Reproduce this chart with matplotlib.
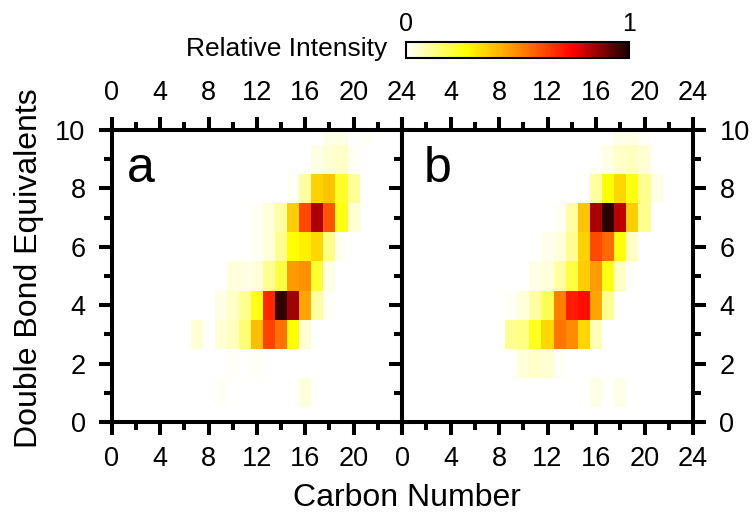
import numpy as np
import matplotlib
matplotlib.use("Agg")
import matplotlib.pyplot as plt
from matplotlib.colors import LinearSegmentedColormap

plt.rcParams['font.family'] = ['Liberation Sans', 'DejaVu Sans']

carbon = np.arange(0, 25)
dbe = np.arange(0, 11)

# rows: DBE -> (first carbon number, intensities)
rows_a = {
    10: (18, [0.03, 0.03, 0.0, 0.015]),
    9: (17, [0.03, 0.05, 0.06, 0.015]),
    8: (15, [0.015, 0.10, 0.36, 0.39, 0.23, 0.11]),
    7: (12, [0.015, 0.04, 0.10, 0.37, 0.62, 0.84, 0.60, 0.25, 0.05]),
    6: (12, [0.015, 0.04, 0.12, 0.27, 0.30, 0.35, 0.13, 0.015]),
    5: (10, [0.04, 0.03, 0.04, 0.12, 0.20, 0.47, 0.49, 0.22, 0.03]),
    4: (9, [0.03, 0.06, 0.12, 0.25, 0.68, 0.97, 0.85, 0.45, 0.10, 0.015]),
    3: (7, [0.05, 0.0, 0.05, 0.07, 0.15, 0.40, 0.63, 0.55, 0.27, 0.05]),
    2: (10, [0.01, 0.005, 0.01]),
    1: (9, [0.015, 0.0, 0.0, 0.0, 0.0, 0.0, 0.0, 0.04]),
}
rows_b = {
    10: (18, [0.03, 0.03, 0.01]),
    9: (17, [0.03, 0.06, 0.07, 0.05]),
    8: (16, [0.10, 0.27, 0.35, 0.25, 0.12, 0.03]),
    7: (13, [0.015, 0.10, 0.39, 0.84, 0.98, 0.82, 0.37, 0.12]),
    6: (12, [0.02, 0.04, 0.12, 0.36, 0.62, 0.56, 0.26, 0.06]),
    5: (11, [0.03, 0.04, 0.10, 0.20, 0.37, 0.47, 0.25, 0.06]),
    4: (9, [0.015, 0.04, 0.10, 0.18, 0.52, 0.70, 0.73, 0.45, 0.12]),
    3: (9, [0.12, 0.13, 0.24, 0.35, 0.54, 0.50, 0.35, 0.08]),
    2: (10, [0.04, 0.06, 0.05, 0.015]),
    1: (16, [0.03, 0.0, 0.03]),
}


def to_grid(rows):
    z = np.zeros((len(dbe), len(carbon)))
    for d, (c0, vals) in rows.items():
        z[d, c0:c0 + len(vals)] = vals
    return z


cmap = LinearSegmentedColormap.from_list(
    'ri', [(0.0, '#ffffff'), (0.27, '#ffff00'), (0.5, '#ff8c00'),
           (0.75, '#ff0000'), (1.0, '#1a0000')])

fig = plt.figure(figsize=(7.53, 5.16), dpi=100)
ax_a = fig.add_axes([0.1487, 0.1822, 0.3851, 0.5659])
ax_b = fig.add_axes([0.5339, 0.1822, 0.3865, 0.5659])

xe = np.arange(-0.5, 25, 1)
ye = np.arange(-0.5, 11, 1)

for ax, rows, letter, lx in [(ax_a, rows_a, 'a', 0.05), (ax_b, rows_b, 'b', 0.075)]:
    mesh = ax.pcolormesh(xe, ye, to_grid(rows), cmap=cmap, vmin=0, vmax=1)
    ax.set_xlim(0, 24)
    ax.set_ylim(0, 10)
    ax.set_xticks(np.arange(0, 25, 4))
    ax.set_xticks(np.arange(2, 24, 4), minor=True)
    ax.set_yticks(np.arange(0, 11, 2))
    ax.set_yticks(np.arange(1, 10, 2), minor=True)
    ax.tick_params(which='both', direction='out', top=True, bottom=True,
                   left=True, right=True, width=2.9, labelsize=19.5)
    ax.tick_params(axis='x', which='both', pad=8)
    ax.tick_params(axis='y', which='both', pad=9.5)
    ax.tick_params(which='major', length=9.5)
    ax.tick_params(which='minor', length=5.5)
    ax.tick_params(axis='x', labeltop=True, labelbottom=True)
    for s in ax.spines.values():
        s.set_linewidth(2.9)
    ax.text(lx, 0.822, letter, transform=ax.transAxes, fontsize=36,
            va='baseline', ha='left')

ax_a.tick_params(axis='y', labelleft=True, labelright=False)
ax_b.tick_params(axis='y', labelleft=False, labelright=True)
ax_a.xaxis.get_major_ticks()[-1].label1.set_visible(False)
ax_b.xaxis.get_major_ticks()[0].label2.set_visible(False)

ax_a.set_ylabel('Double Bond Equivalents', fontsize=23)
ax_a.yaxis.set_label_coords(-0.236, 0.525)
fig.text(0.541, 0.02, 'Carbon Number', fontsize=23, ha='center', va='baseline')

cax = fig.add_axes([0.539, 0.8876, 0.296, 0.031])
cb = fig.colorbar(mesh, cax=cax, orientation='horizontal', ticks=[0, 1])
cb.outline.set_linewidth(1.5)
cax.xaxis.set_ticks_position('top')
cax.tick_params(length=0, labelsize=18, pad=4)
cax.set_xticklabels(['0', '1'])
fig.text(0.514, 0.8915, 'Relative Intensity', fontsize=19, ha='right', va='baseline')

fig.savefig('out.png', dpi=100)
